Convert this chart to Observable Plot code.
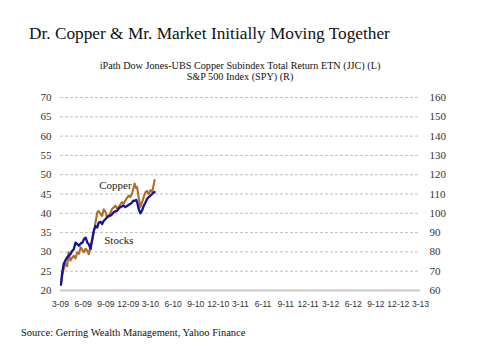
<!DOCTYPE html>
<html><head><meta charset="utf-8">
<script src="https://cdn.jsdelivr.net/npm/d3@7"></script>
<script src="https://cdn.jsdelivr.net/npm/@observablehq/plot@0.6"></script>
<style>
body{margin:0;background:#fff;width:480px;height:360px;overflow:hidden;font-family:"Liberation Serif",serif;color:#111}
#title{height:48px;box-sizing:border-box;padding:24px 0 0 29px;font-size:17.3px;line-height:20px;white-space:nowrap}
#subtitle{margin-top:12px;text-align:center;font-size:10.2px;line-height:11px;height:22px;color:#111}
#chart{height:235px}
#caption{padding:10px 0 0 21px;font-size:10.5px;line-height:12px;color:#111}
</style></head><body>
<div id="title">Dr. Copper &amp; Mr. Market Initially Moving Together</div>
<div id="subtitle">iPath Dow Jones-UBS Copper Subindex Total Return ETN (JJC) (L)<br>S&amp;P 500 Index (SPY) (R)</div>
<div id="chart"></div>
<div id="caption">Source: Gerring Wealth Management, Yahoo Finance</div>
<script>
const xTickLabels = ["3-09","6-09","9-09","12-09","3-10","6-10","9-10","12-10","3-11","6-11","9-11","12-11","3-12","6-12","9-12","12-12","3-13"];
const leftTicks = [20,25,30,35,40,45,50,55,60,65,70];

const dates = ["2009-03-03","2009-03-07","2009-03-14","2009-03-21","2009-03-28","2009-04-03","2009-04-10","2009-04-17","2009-04-24","2009-05-01",
"2009-05-08","2009-05-15","2009-05-22","2009-05-29","2009-06-04","2009-06-11","2009-06-18","2009-06-24","2009-07-01","2009-07-08",
"2009-07-14","2009-07-21","2009-07-28","2009-08-03","2009-08-10","2009-08-17","2009-08-23","2009-08-31","2009-09-06","2009-09-13",
"2009-09-20","2009-09-27","2009-10-03","2009-10-10","2009-10-17","2009-10-23","2009-10-30","2009-11-06","2009-11-12","2009-11-19",
"2009-11-26","2009-12-03","2009-12-09","2009-12-16","2009-12-22","2009-12-27","2010-01-02","2010-01-06","2010-01-12","2010-01-19",
"2010-01-26","2010-02-02","2010-02-09","2010-02-15","2010-02-22","2010-03-01","2010-03-08","2010-03-13","2010-03-18"];

const copperValues = [21.5,23.5,25.6,26.9,26.3,29.9,27.7,28.5,29.0,28.3,
29.9,29.5,31.2,30.5,29.9,30.8,30.3,29.4,31.6,33.3,
35.0,37.6,40.2,40.6,39.8,39.3,41.0,40.3,38.9,39.4,
40.2,41.2,41.5,42.0,41.2,41.6,42.3,42.9,42.5,43.3,
44.0,44.6,44.2,45.0,46.5,47.7,46.5,46.8,44.2,41.6,
42.9,44.3,45.5,45.8,45.0,46.0,45.5,47.0,48.6];

const spyValues = [63.0,68.4,73.8,75.6,77.2,78.0,78.8,80.4,81.4,84.8,
84.0,83.2,84.4,84.8,86.6,87.4,84.8,84.0,81.4,86.6,
91.0,93.4,92.6,95.2,95.6,94.4,96.0,97.0,98.0,98.6,
98.8,99.6,100.6,101.0,101.4,102.4,103.2,103.6,104.0,103.2,
103.8,104.4,104.8,105.6,106.6,106.4,107.0,105.8,102.4,100.0,
101.4,104.0,105.6,107.4,108.4,109.2,110.0,110.6,111.0];

const seriesLabels = ["Copper","Stocks"];
const labelDates = ["2009-10-10","2009-10-24"];
const labelValues = [47.2,33.0];

const xTicks = xTickLabels.map(s => { const [m, y] = s.split("-"); return new Date(Date.UTC(2000 + +y, +m - 1, 1)); });
const tickLabelByTime = new Map(xTicks.map((d, i) => [+d, xTickLabels[i]]));
const data = dates.map((d, i) => ({date: new Date(d), copper: copperValues[i], spy: spyValues[i]}));
const labels = seriesLabels.map((t, i) => ({text: t, date: new Date(labelDates[i]), value: labelValues[i]}));

const chart = Plot.plot({
  width: 480, height: 235,
  marginLeft: 60, marginRight: 60, marginTop: 15, marginBottom: 27,
  style: {fontFamily: '"Liberation Serif", serif', fontSize: "11px", color: "#333", background: "#fff"},
  x: {type: "utc", domain: [xTicks[0], xTicks[xTicks.length - 1]]},
  y: {domain: [20, 70]},
  marks: [
    Plot.ruleY(leftTicks.filter(v => v > 20), {stroke: "#b0b0b0", strokeDasharray: "3,2", strokeWidth: 0.8}),
    Plot.ruleY([20], {stroke: "#c8c8c8", strokeWidth: 2}),
    Plot.axisY(leftTicks, {anchor: "left", tickSize: 0, tickPadding: 9, fontSize: 11, label: null}),
    Plot.axisY(leftTicks, {anchor: "right", tickSize: 0, tickPadding: 9, fontSize: 11, tickFormat: v => String(2 * v + 20), label: null}),
    Plot.axisX(xTicks, {tickSize: 0, tickPadding: 10, tickFormat: d => tickLabelByTime.get(+d), fontFamily: '"Liberation Sans", sans-serif', fontSize: 8.6, fill: "#333", label: null}),
    Plot.line(data, {x: "date", y: "copper", stroke: "#b06c26", strokeWidth: 2.1}),
    Plot.line(data, {x: "date", y: d => (d.spy - 20) / 2, stroke: "#14149a", strokeWidth: 2.3}),
    Plot.text(labels, {x: "date", y: "value", text: "text", fontSize: 11, fill: "#222"})
  ]
});
document.getElementById("chart").appendChild(chart);
</script>
</body></html>
